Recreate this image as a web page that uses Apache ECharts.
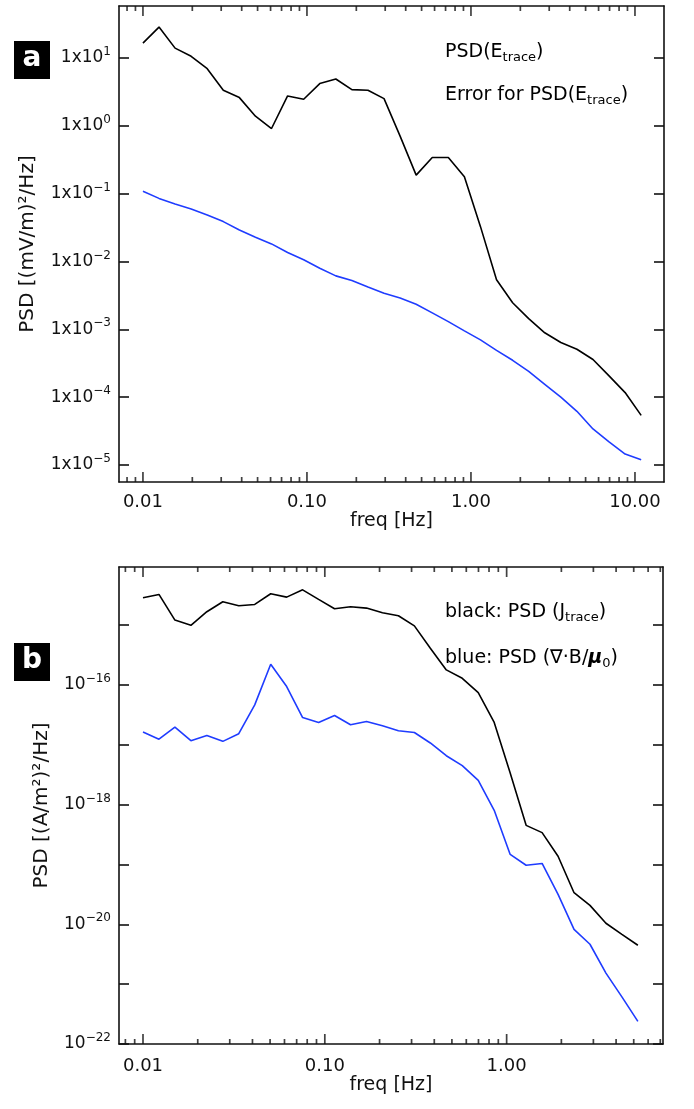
<!DOCTYPE html>
<html lang="en">
<head>
<meta charset="UTF-8">
<title>PSD</title>
<script src="https://cdn.jsdelivr.net/npm/echarts@6/dist/echarts.min.js"></script>
<style>
  html, body { margin: 0; padding: 0; background: #fff; }
  #main { width: 694px; height: 1109px; }
</style>
</head>
<body>
<div id="main"></div>
<script>
// panel a : electric field spectrum and its error
var freqA = [0.0100, 0.01253, 0.01570, 0.01968, 0.02466, 0.03090, 0.03873, 0.04853, 0.06081, 0.07621,
             0.09550, 0.1197, 0.1500, 0.1879, 0.2355, 0.2951, 0.3698, 0.4634, 0.5808, 0.7278,
             0.9120, 1.143, 1.432, 1.795, 2.249, 2.818, 3.532, 4.426, 5.546, 6.950, 8.710, 10.91];
var psdE = [16.6, 28.6, 14.0, 10.6, 6.97, 3.35, 2.61, 1.39, 0.914, 2.76,
            2.47, 4.20, 4.91, 3.42, 3.35, 2.52, 0.705, 0.188, 0.342, 0.342,
            0.178, 0.0327, 0.0054, 2.47e-3, 1.44e-3, 8.9e-4, 6.4e-4, 5.1e-4, 3.6e-4, 2.06e-4, 1.17e-4, 5.4e-5];
var errE = [0.109, 0.0853, 0.0705, 0.0595, 0.0486, 0.0388, 0.0292, 0.0228, 0.0182, 0.0136,
            0.0106, 7.98e-3, 6.15e-3, 5.26e-3, 4.2e-3, 3.4e-3, 2.9e-3, 2.35e-3, 1.75e-3, 1.3e-3,
            9.5e-4, 7.0e-4, 4.9e-4, 3.5e-4, 2.4e-4, 1.55e-4, 1.0e-4, 6.2e-5, 3.4e-5, 2.2e-5, 1.45e-5, 1.2e-5];

// panel b : current density vs curl B spectra
var freqB = [0.0100, 0.01224, 0.01498, 0.01834, 0.02245, 0.02748, 0.03363, 0.04117, 0.05040, 0.06169,
             0.07551, 0.09243, 0.1131, 0.1385, 0.1695, 0.2075, 0.2540, 0.3109, 0.3805, 0.4658,
             0.5702, 0.6980, 0.8543, 1.046, 1.280, 1.567, 1.918, 2.348, 2.873, 3.517, 4.305, 5.269];
var psdJ = [2.85e-15, 3.25e-15, 1.21e-15, 9.9e-16, 1.67e-15, 2.45e-15, 2.1e-15, 2.21e-15, 3.33e-15, 2.93e-15,
            3.88e-15, 2.68e-15, 1.87e-15, 2.02e-15, 1.92e-15, 1.6e-15, 1.43e-15, 9.7e-16, 4.09e-16, 1.78e-16,
            1.29e-16, 7.45e-17, 2.36e-17, 3.38e-18, 4.5e-19, 3.4e-19, 1.37e-19, 3.37e-20, 2.07e-20, 1.04e-20, 6.8e-21, 4.47e-21];
var psdCurlB = [1.63e-17, 1.24e-17, 1.97e-17, 1.17e-17, 1.43e-17, 1.14e-17, 1.53e-17, 4.64e-17, 2.21e-16, 9.4e-17,
                2.85e-17, 2.36e-17, 3.08e-17, 2.16e-17, 2.45e-17, 2.07e-17, 1.71e-17, 1.6e-17, 1.07e-17, 6.56e-18,
                4.47e-18, 2.54e-18, 8.04e-19, 1.47e-19, 9.7e-20, 1.04e-19, 3.16e-20, 8.25e-21, 4.64e-21, 1.53e-21, 6.14e-22, 2.39e-22];

// ticks
var xMajor = [0.01, 0.1, 1, 10];
var xMajorLabels = ['0.01', '0.10', '1.00', '10.00'];
var xMinorMult = [2, 3, 4, 5, 6, 7, 8, 9];
var yTicksA = [-5, -4, -3, -2, -1, 0, 1];
var yLabelsA = [-5, -4, -3, -2, -1, 0, 1];
var yTicksB = [-22, -21, -20, -19, -18, -17, -16, -15];
var yLabelsB = [-22, -20, -18, -16];

var FONT = 'DejaVu Sans';
var AX = '#111';
var BLUE = '#1f3cff';

var xRangeA = [-2.146, 1.177], yRangeA = [-5.25, 1.767];
var xRangeB = [-2.132, 0.860], yRangeB = [-22, -14.03];

function lg(v) { return Math.log10(v); }
function pairs(xs, ys) { return xs.map(function (x, i) { return [lg(x), lg(ys[i])]; }); }
function expText(e) { return e < 0 ? '\u2212' + (-e) : '' + e; }
var majorLog = xMajor.map(lg);

function majorTicks(xr) { return majorLog.filter(function (v) { return v >= xr[0] && v <= xr[1]; }); }
function minorTicks(xr) {
    var out = [];
    for (var d = -3; d <= 1; d++) {
        xMinorMult.forEach(function (m) {
            var v = d + lg(m);
            if (v > xr[0] && v < xr[1]) out.push(v);
        });
    }
    return out;
}

// frequency ticks drawn as thin rect symbols sitting on the top and bottom frame
function tickSeries(axisIdx, xs, y, len, down) {
    return { type: 'scatter', xAxisIndex: axisIdx, yAxisIndex: axisIdx, silent: true, clip: false, z: 5,
             data: xs.map(function (v) { return [v, y]; }),
             symbol: 'rect', symbolSize: [1.7, len], symbolOffset: [0, down ? len / 2 : -len / 2],
             itemStyle: { color: AX } };
}
function freqTickSeries(axisIdx, xr, yr) {
    var maj = majorTicks(xr), mnr = minorTicks(xr);
    return [
        tickSeries(axisIdx, maj, yr[0], 10, false), tickSeries(axisIdx, mnr, yr[0], 5, false),
        tickSeries(axisIdx, maj, yr[1], 10, true), tickSeries(axisIdx, mnr, yr[1], 5, true)
    ];
}

function xAxes(g, xr, margin, nameGap) {
    var line = { show: true, onZero: false, lineStyle: { color: AX, width: 1.6 } };
    var base = { gridIndex: g, type: 'value', min: xr[0], max: xr[1], splitLine: { show: false }, axisTick: { show: false } };
    return [
        Object.assign({}, base, {
            position: 'bottom', axisLine: line,
            axisLabel: {
                customValues: majorTicks(xr), margin: margin, fontFamily: FONT, fontSize: 18, color: '#111',
                formatter: function (v) { return xMajorLabels[Math.round(v) + 2]; }
            },
            name: 'freq [Hz]', nameLocation: 'middle', nameGap: nameGap,
            nameTextStyle: { fontFamily: FONT, fontSize: 19, color: '#111' }
        }),
        Object.assign({}, base, { position: 'top', axisLine: line, axisLabel: { show: false } })
    ];
}

var supRich = {
    m: { fontFamily: FONT, fontSize: 17, lineHeight: 24, color: '#111' },
    s: { fontFamily: FONT, fontSize: 12, lineHeight: 12, verticalAlign: 'top', color: '#111' }
};

function yAxes(g, yr, ticks, labels, fmt, name, nameGap) {
    var line = { show: true, onZero: false, lineStyle: { color: AX, width: 1.6 } };
    var base = { gridIndex: g, type: 'value', min: yr[0], max: yr[1], splitLine: { show: false } };
    var tick = { show: true, inside: true, length: 10, customValues: ticks, lineStyle: { color: AX, width: 1.6 } };
    return [
        Object.assign({}, base, {
            position: 'left', axisLine: line, axisTick: tick,
            axisLabel: { customValues: labels, margin: 8, formatter: fmt, rich: supRich },
            name: name, nameLocation: 'middle', nameGap: nameGap, nameRotate: 90,
            nameTextStyle: { fontFamily: FONT, fontSize: 20, color: '#111' }
        }),
        Object.assign({}, base, { position: 'right', axisLine: line, axisTick: tick, axisLabel: { show: false } })
    ];
}

function legendText(x, y, text, color) {
    return { type: 'text', x: x, y: y, style: {
        text: text, verticalAlign: 'middle',
        rich: {
            n: { fontFamily: FONT, fontSize: 19, lineHeight: 24, color: color },
            mu: { fontFamily: FONT, fontSize: 19, lineHeight: 24, fontStyle: 'italic', fontWeight: 'bold', color: color },
            sub: { fontFamily: FONT, fontSize: 13, lineHeight: 12, verticalAlign: 'bottom', color: color }
        } } };
}

function psdLine(i, xs, ys, color) {
    return { type: 'line', xAxisIndex: i, yAxisIndex: i, data: pairs(xs, ys), showSymbol: false,
             lineStyle: { color: color, width: 1.6 } };
}

var chart = echarts.init(document.getElementById('main'));

var option = {
    animation: false,
    backgroundColor: '#fff',
    grid: [
        { left: 119, right: 30, top: 6, height: 476 },
        { left: 119, right: 31, top: 567, height: 477 }
    ],
    // axis order: [a bottom, a top, b bottom, b top] / [a left, a right, b left, b right]
    xAxis: xAxes(0, xRangeA, 11, 30).concat(xAxes(1, xRangeB, 13, 32)),
    yAxis: yAxes(0, yRangeA, yTicksA, yLabelsA,
                 function (v) { return '{m|1x10}{s|' + expText(Math.round(v)) + '}'; },
                 'PSD [(mV/m)\u00b2/Hz]', 81)
        .concat(yAxes(1, yRangeB, yTicksB, yLabelsB,
                 function (v) { return '{m|10}{s|' + expText(Math.round(v)) + '}'; },
                 'PSD [(A/m\u00b2)\u00b2/Hz]', 67)),
    series: [
        psdLine(0, freqA, psdE, '#000'),
        psdLine(0, freqA, errE, BLUE),
        psdLine(2, freqB, psdJ, '#000'),
        psdLine(2, freqB, psdCurlB, BLUE)
    ].concat(freqTickSeries(0, xRangeA, yRangeA), freqTickSeries(2, xRangeB, yRangeB)),
    graphic: [
        { type: 'rect', shape: { x: 14, y: 41, width: 36, height: 38 }, style: { fill: '#000' } },
        { type: 'text', x: 32, y: 59, style: { text: 'a', fill: '#fff', font: 'bold 28px "DejaVu Sans"', align: 'center', verticalAlign: 'middle' } },
        { type: 'rect', shape: { x: 14, y: 643, width: 36, height: 38 }, style: { fill: '#000' } },
        { type: 'text', x: 32, y: 661, style: { text: 'b', fill: '#fff', font: 'bold 28px "DejaVu Sans"', align: 'center', verticalAlign: 'middle' } },
        legendText(445, 52, '{n|PSD(E}{sub|trace}{n|)}', '#000'),
        legendText(445, 95, '{n|Error for PSD(E}{sub|trace}{n|)}', BLUE),
        legendText(445, 612, '{n|black: PSD (J}{sub|trace}{n|)}', '#000'),
        legendText(445, 658, '{n|blue: PSD (\u2207\u00b7B/}{mu|\u03bc}{sub|0}{n|)}', BLUE)
    ]
};

chart.setOption(option);
</script>
</body>
</html>
